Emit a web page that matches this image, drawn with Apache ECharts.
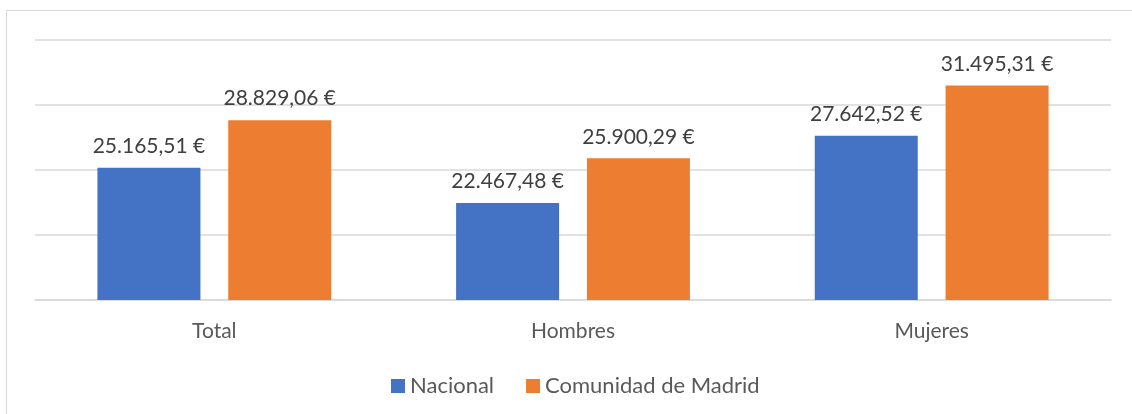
<!DOCTYPE html>
<html>
<head>
<meta charset="utf-8">
<script src="https://cdn.jsdelivr.net/npm/echarts@6/dist/echarts.min.js"></script>
<style>
  html, body { margin: 0; padding: 0; background: #fff; }
  #frame { position: absolute; left: 6px; top: 10px; width: 1130px; height: 410px; border: 1px solid #d9d9d9; border-right: none; border-bottom: none; box-sizing: border-box; }
  #chart { width: 1132px; height: 414px; }
</style>
</head>
<body>
<div id="frame"></div>
<div id="chart" style="position:absolute;left:0;top:0;"></div>
<script>
const categories = ['Total', 'Hombres', 'Mujeres'];
const nacional = [25165.51, 22467.48, 27642.52];
const madrid = [28829.06, 25900.29, 31495.31];
const seriesNames = ['Nacional', 'Comunidad de Madrid'];

const FONT = 'Lato, "Liberation Sans", sans-serif';

function euro(v) {
  const fixed = v.toFixed(2).split('.');
  const intPart = fixed[0].replace(/\B(?=(\d{3})+(?!\d))/g, '.');
  return intPart + ',' + fixed[1] + ' €';
}

const chart = echarts.init(document.getElementById('chart'));
const labelStyle = {
  show: true,
  position: 'top',
  distance: 11,
  color: '#404040',
  fontSize: 21,
  fontFamily: FONT,
  formatter: p => euro(p.value)
};

chart.setOption({
  animation: false,
  grid: { left: 35, right: 21, top: 40, bottom: 114 },
  legend: {
    bottom: 12,
    left: 386,
    itemWidth: 14,
    itemHeight: 14,
    itemGap: 32,
    icon: 'rect',
    textStyle: { color: '#595959', fontSize: 22, fontFamily: FONT },
    data: seriesNames
  },
  xAxis: {
    type: 'category',
    data: categories,
    axisLine: { show: true, lineStyle: { color: '#d9d9d9', width: 1.5 } },
    axisTick: { show: false },
    axisLabel: { color: '#595959', fontSize: 21, fontFamily: FONT, margin: 21 }
  },
  yAxis: {
    type: 'value',
    min: 15000,
    max: 35000,
    interval: 5000,
    axisLabel: { show: false },
    axisLine: { show: false },
    axisTick: { show: false },
    splitLine: { lineStyle: { color: '#d9d9d9', width: 1.5 } }
  },
  series: [
    {
      name: seriesNames[0],
      type: 'bar',
      data: nacional,
      barWidth: 103,
      barGap: '27%',
      itemStyle: { color: '#4472c4' },
      label: labelStyle
    },
    {
      name: seriesNames[1],
      type: 'bar',
      data: madrid,
      barWidth: 103,
      barGap: '27%',
      itemStyle: { color: '#ed7d31' },
      label: labelStyle
    }
  ]
});
</script>
</body>
</html>
